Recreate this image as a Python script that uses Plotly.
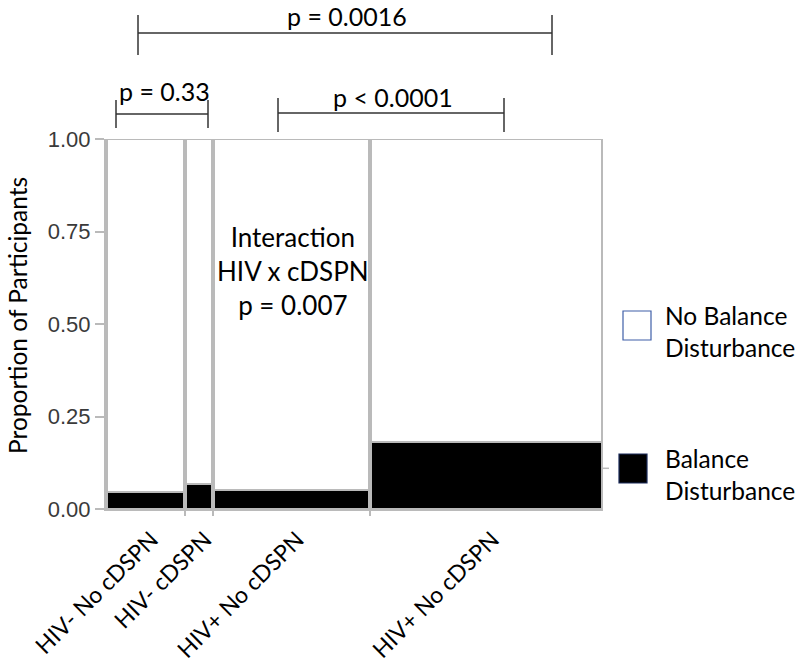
import numpy as np
import plotly.graph_objects as go

# ---------------- data ----------------
groups = ["HIV- No cDSPN", "HIV- cDSPN", "HIV+ No cDSPN", "HIV+ No cDSPN"]
group_share = [0.159, 0.056, 0.316, 0.469]          # column widths (share of participants)
balance_disturbance = [0.046, 0.068, 0.051, 0.180]  # proportion with balance disturbance
overall_rate = 0.11
y_tick_values = [0.0, 0.25, 0.50, 0.75, 1.00]
y_tick_labels = ["0.00", "0.25", "0.50", "0.75", "1.00"]
comparisons = ["p = 0.33", "p < 0.0001", "p = 0.0016"]
interaction_text = ["Interaction", "HIV x cDSPN", "p = 0.007"]
legend_labels = ["No Balance<br>Disturbance", "Balance<br>Disturbance"]

# ---------------- geometry helpers ----------------
W, H = 800, 667
L, T = 106, 139
B = H - 509
R = W - 603
PW, PH = W - L - R, H - T - B

def px(xp):
    return (xp - L) / PW

def py(yp):
    return (H - B - yp) / PH

share = np.array(group_share)
right = np.cumsum(share)
left = right - share
centers = (left + right) / 2
gap = 2 / PW
widths = share - gap
no_dist = [1 - b for b in balance_disturbance]

TEXT_FONT = "Lato"
GRAY = "#bababa"

fig = go.Figure()
fig.add_trace(go.Bar(
    x=centers, y=balance_disturbance, base=[0] * len(groups), width=widths,
    marker=dict(color="black", line=dict(color=GRAY, width=2)),
    showlegend=False, hoverinfo="skip",
))
fig.add_trace(go.Bar(
    x=centers, y=no_dist, base=balance_disturbance, width=widths,
    marker=dict(color="white", line=dict(color=GRAY, width=2)),
    showlegend=False, hoverinfo="skip",
))
# invisible helper trace for the boundary tick axis
fig.add_trace(go.Scatter(
    x=list(right[:-1]), y=[0] * (len(groups) - 1), xaxis="x2", mode="markers",
    marker=dict(opacity=0), showlegend=False, hoverinfo="skip",
))

fig.update_layout(
    width=W, height=H,
    margin=dict(l=L, r=R, t=T, b=B, autoexpand=False),
    plot_bgcolor="white", paper_bgcolor="white",
    barmode="overlay", bargap=0,
    xaxis=dict(
        range=[0, 1], tickmode="array", tickvals=list(centers), ticktext=groups,
        tickangle=-45, ticks="", showgrid=False, zeroline=False, automargin=False,
        showline=True, linecolor=GRAY, linewidth=2,
        ticklabelshift=6, ticklabelstandoff=6,
        tickfont=dict(family=TEXT_FONT, size=23, color="black"),
    ),
    xaxis2=dict(
        range=[0, 1], overlaying="x", anchor="y", side="bottom", automargin=False,
        tickmode="array", tickvals=list(right[:-1]), showticklabels=False,
        ticks="outside", ticklen=6, tickcolor=GRAY, tickwidth=2,
        showgrid=False, zeroline=False, showline=False,
    ),
    yaxis=dict(
        range=[0, 1], tickmode="array", tickvals=y_tick_values, ticktext=y_tick_labels,
        ticks="outside", ticklen=9, tickcolor=GRAY, tickwidth=1.5, automargin=False,
        showgrid=False, zeroline=False, showline=True, linecolor=GRAY, linewidth=2,
        tickfont=dict(family="Liberation Sans", size=22, color="#3a3a3a"),
    ),
)

def text(label, x, y, size, xanchor="center", yanchor="middle", angle=0, align="center"):
    fig.add_annotation(text=label, xref="paper", yref="paper", x=px(x), y=py(y),
                       xanchor=xanchor, yanchor=yanchor, textangle=angle,
                       showarrow=False, align=align, borderpad=0,
                       font=dict(family=TEXT_FONT, size=size, color="black"))

# y-axis title
text("Proportion of Participants", 17, 316, 24.5, angle=-90)

# overall-rate tick on the right edge
fig.add_shape(type="line", xref="paper", yref="y", x0=1, x1=px(609),
              y0=overall_rate, y1=overall_rate, line=dict(color=GRAY, width=1.5))

# comparison brackets
LINE = dict(color="#333333", width=1.5)
brackets = [  # (x0, x1, y_line, y_top, y_bot, text_y)
    (116, 208, 114, 100, 128, 91),
    (278, 504, 113, 98, 132, 97),
    (138, 552, 33, 15, 55, 16),
]
for label, (x0, x1, yl, yt, yb, ty) in zip(comparisons, brackets):
    fig.add_shape(type="line", xref="paper", yref="paper",
                  x0=px(x0), x1=px(x1), y0=py(yl), y1=py(yl), line=LINE)
    for xx in (x0, x1):
        fig.add_shape(type="line", xref="paper", yref="paper",
                      x0=px(xx), x1=px(xx), y0=py(yt), y1=py(yb), line=LINE)
    text(label, (x0 + x1) / 2 + 2, ty, 25)

# interaction annotation
text("<br>".join(interaction_text), 293, 271, 26)

# legend (drawn manually)
fig.add_shape(type="rect", xref="paper", yref="paper",
              x0=px(623), x1=px(651), y0=py(340), y1=py(311),
              line=dict(color="#3f5fa8", width=1.2), fillcolor="white")
fig.add_shape(type="rect", xref="paper", yref="paper",
              x0=px(619), x1=px(647), y0=py(483), y1=py(454),
              line=dict(color="#1a2a5a", width=1.2), fillcolor="black")
text(legend_labels[0], 664, 331, 24.5, xanchor="left", align="left")
text(legend_labels[1], 664, 474, 24.5, xanchor="left", align="left")

fig.write_html("out.html", config={"displayModeBar": False},
               post_script="document.body.style.margin='0px';")
